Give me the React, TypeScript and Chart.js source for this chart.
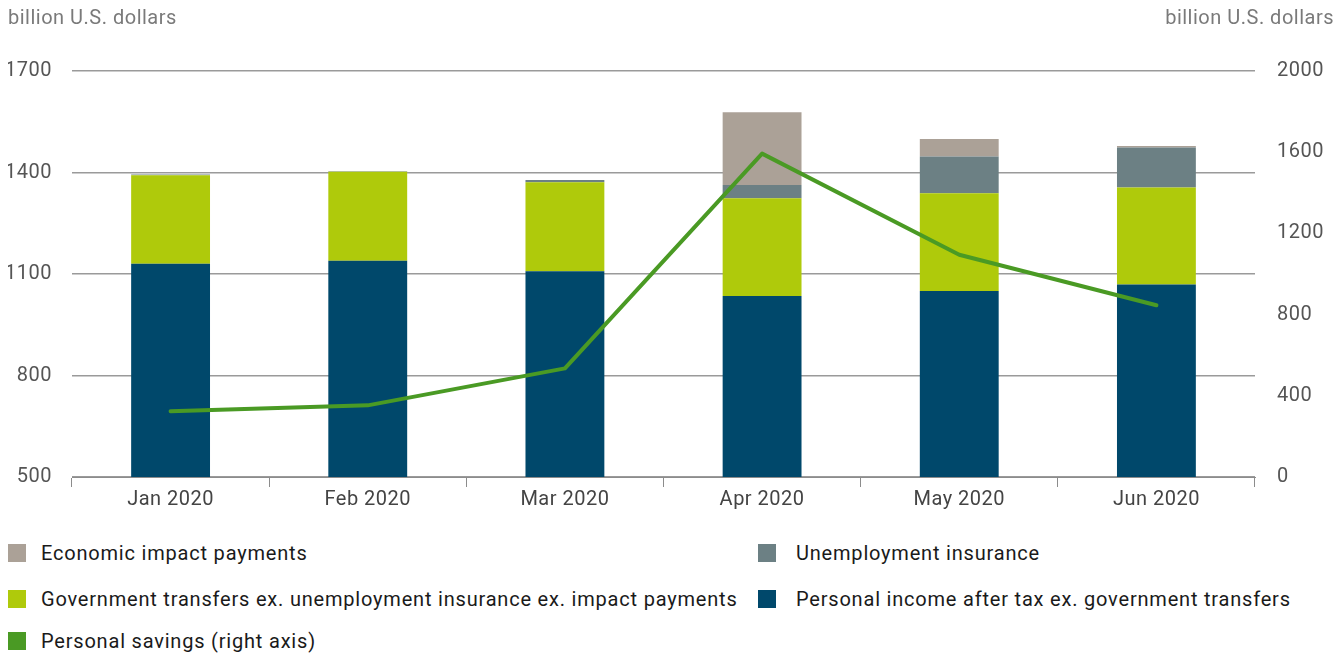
import React, { useEffect, useRef } from "react";
import { Chart, registerables } from "chart.js";

Chart.register(...registerables);

const categories = ["Jan 2020", "Feb 2020", "Mar 2020", "Apr 2020", "May 2020", "Jun 2020"];
const personalIncome = [1130, 1139, 1108, 1035, 1050, 1069];
const govTransfers = [262, 263, 263, 289, 289, 287];
const unemployment = [2, 2, 7, 39, 108, 118];
const impactPayments = [0, 0, 0, 215, 52, 4];
const personalSavings = [324, 353, 535, 1593, 1095, 846];
const leftTicks = [500, 800, 1100, 1400, 1700];
const rightTicks = [0, 400, 800, 1200, 1600, 2000];

const FONT = "Roboto, 'Noto Sans', sans-serif";

const legendItems = [
  { label: "Economic impact payments", color: "#ABA197", col: 0, row: 0 },
  { label: "Unemployment insurance", color: "#6C8084", col: 1, row: 0 },
  { label: "Government transfers ex. unemployment insurance ex. impact payments", color: "#AFCA0B", col: 0, row: 1 },
  { label: "Personal income after tax ex. government transfers", color: "#00486B", col: 1, row: 1 },
  { label: "Personal savings (right axis)", color: "#4A9A24", col: 0, row: 2 },
];

export default function App() {
  const ref = useRef<HTMLCanvasElement | null>(null);

  useEffect(() => {
    if (!ref.current) return;
    const c2d: any = ref.current.getContext("2d");
    if (c2d) c2d.letterSpacing = "0.5px";
    const titlePlugin = {
      id: "axisTitles",
      beforeDraw(chart: any) {
        chart.ctx.letterSpacing = "0.5px";
      },
      afterDraw(chart: any) {
        const ctx = chart.ctx;
        ctx.save();
        ctx.letterSpacing = "0.5px";
        ctx.font = `20px ${FONT}`;
        ctx.fillStyle = "#7a7a7a";
        ctx.textBaseline = "middle";
        ctx.textAlign = "left";
        ctx.fillText("billion U.S. dollars", 0, 11);
        ctx.textAlign = "right";
        ctx.fillText("billion U.S. dollars", chart.width, 11);
        ctx.restore();
      },
    };
    const fmt = (v: any) => String(v);
    const chart = new Chart(ref.current, {
      type: "bar",
      data: {
        labels: categories,
        datasets: [
          {
            type: "line",
            label: "Personal savings (right axis)",
            data: personalSavings,
            borderColor: "#4A9A24",
            backgroundColor: "#4A9A24",
            borderWidth: 4,
            pointRadius: 0,
            tension: 0,
            borderCapStyle: "round",
            borderJoinStyle: "round",
            yAxisID: "y1",
            order: 0,
          } as any,
          { label: "Personal income after tax ex. government transfers", data: personalIncome, backgroundColor: "#00486B", stack: "s", yAxisID: "y", order: 1 },
          { label: "Government transfers ex. unemployment insurance ex. impact payments", data: govTransfers, backgroundColor: "#AFCA0B", stack: "s", yAxisID: "y", order: 1 },
          { label: "Unemployment insurance", data: unemployment, backgroundColor: "#6C8084", stack: "s", yAxisID: "y", order: 1 },
          { label: "Economic impact payments", data: impactPayments, backgroundColor: "#ABA197", stack: "s", yAxisID: "y", order: 1 },
        ],
      },
      options: {
        animation: false,
        responsive: false,
        maintainAspectRatio: false,
        layout: { padding: { top: 63, left: 0, right: 0, bottom: 0 } },
        datasets: { bar: { barPercentage: 0.4, categoryPercentage: 1 } },
        plugins: { legend: { display: false }, tooltip: { enabled: false } },
        scales: {
          x: {
            stacked: true,
            offset: true,
            grid: { display: true, drawOnChartArea: false, drawTicks: true, tickLength: 10, color: "#8c8c8c", lineWidth: 1, offset: true },
            border: { display: true, color: "#8c8c8c", width: 1 },
            ticks: { color: "#444", font: { family: FONT, size: 20 }, padding: 1 },
            afterFit(scale: any) { scale.height = 53; },
          },
          y: {
            stacked: true,
            position: "left",
            min: 500,
            max: 1700,
            afterBuildTicks(scale: any) { scale.ticks = leftTicks.map((v) => ({ value: v })); },
            grid: { color: "#9a9a9a", lineWidth: 1.5, drawTicks: false },
            border: { display: false },
            ticks: { color: "#555", font: { family: FONT, size: 20 }, padding: 20, callback: fmt },
            afterFit(scale: any) { scale.width = 64; },
          },
          y1: {
            position: "right",
            min: 0,
            max: 2000,
            afterBuildTicks(scale: any) { scale.ticks = rightTicks.map((v) => ({ value: v })); },
            grid: { display: false, drawTicks: false },
            border: { display: false },
            ticks: { color: "#555", font: { family: FONT, size: 20 }, padding: 22, callback: fmt },
            afterFit(scale: any) { scale.width = 79; },
          },
        },
      },
      plugins: [titlePlugin],
    } as any);
    return () => chart.destroy();
  }, []);

  return (
    <div style={{ position: "relative", width: 1326, height: 646, fontFamily: FONT }}>
      <canvas ref={ref} width={1326} height={522} style={{ display: "block" }} />
      {legendItems.map((it) => (
        <div
          key={it.label}
          style={{
            position: "absolute",
            left: it.col === 0 ? 0 : 750,
            top: [545, 591, 633][it.row] - 12,
            height: 24,
            display: "flex",
            alignItems: "center",
            whiteSpace: "nowrap",
          }}
        >
          <span style={{ display: "inline-block", width: 18, height: 18, background: it.color }} />
          <span style={{ marginLeft: it.col === 0 ? 15 : 20, fontSize: 20, letterSpacing: "0.8px", color: "#1a1a1a" }}>{it.label}</span>
        </div>
      ))}
    </div>
  );
}
